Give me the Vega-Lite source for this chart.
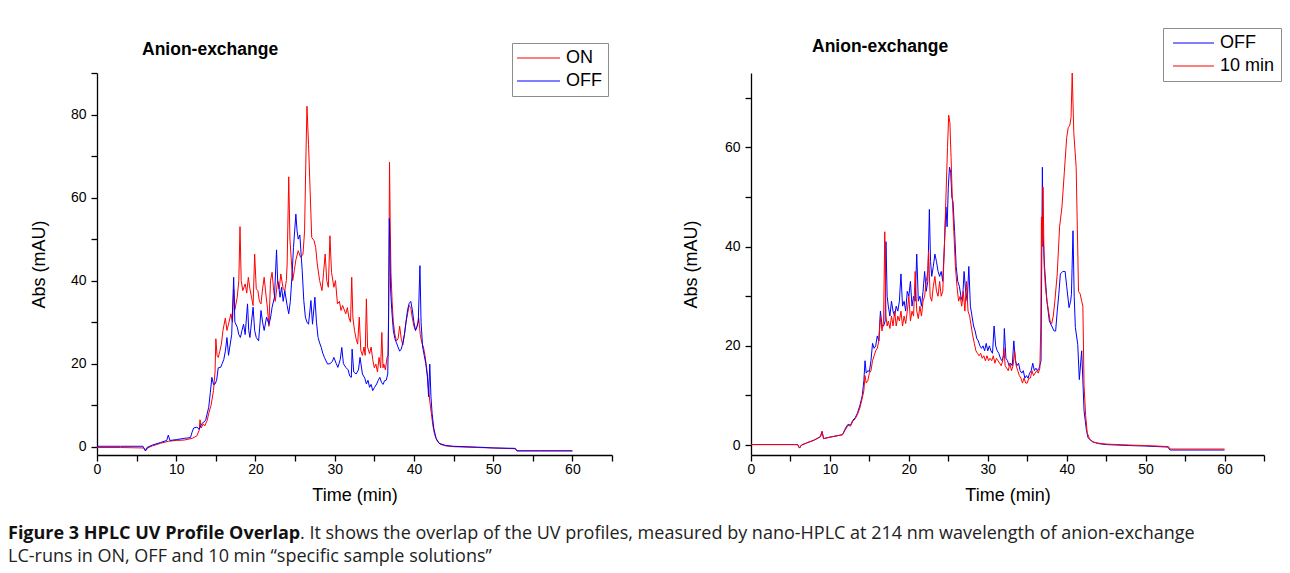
{
  "$schema": "https://vega.github.io/schema/vega-lite/v6.json",
  "padding": {"left": 8, "top": 27, "right": 0, "bottom": 0},
  "background": "white",
  "bounds": "flush",
  "columns": 2,
  "spacing": {"row": 66, "column": 139},
  "resolve": {"scale": {"color": "independent"}, "legend": {"color": "independent"}},
  "config": {
    "view": {"stroke": null},
    "font": "Liberation Sans",
    "axis": {
      "grid": false, "domainColor": "#000", "domainWidth": 1.3, "tickColor": "#000", "tickWidth": 1.3, "tickSize": 6,
      "labelFont": "Liberation Sans", "labelFontSize": 14, "labelColor": "#000", "labelFlush": false, "labelOverlap": false,
      "titleFont": "Liberation Sans", "titleFontSize": 18, "titleFontWeight": "normal", "titleColor": "#000"
    },
    "legend": {
      "orient": "none", "direction": "vertical", "symbolStrokeWidth": 1.2, "symbolSize": 100,
      "labelFont": "Liberation Sans", "labelFontSize": 18, "labelColor": "#000",
      "strokeColor": "#8c8c8c", "fillColor": "white", "padding": 6, "rowPadding": 5, "title": null
    },
    "title": {"anchor": "start", "frame": "group", "fontSize": 17.5, "fontWeight": "bold", "font": "Liberation Sans", "color": "#000"}
  },
  "datasets": {
    "left": [
      {"series":"ON","time":0,"abs":-0.2},{"series":"ON","time":3,"abs":-0.2},{"series":"ON","time":5.9,"abs":-0.3},{"series":"ON","time":6.15,"abs":-1.0},{"series":"ON","time":6.4,"abs":-0.3},{"series":"ON","time":7,"abs":0.2},{"series":"ON","time":8,"abs":0.8},{"series":"ON","time":9,"abs":1.3},{"series":"ON","time":10,"abs":1.5},{"series":"ON","time":11,"abs":1.6},{"series":"ON","time":12,"abs":2.0},{"series":"ON","time":12.6,"abs":2.6},{"series":"ON","time":12.9,"abs":4},{"series":"ON","time":13.0,"abs":6.5},{"series":"ON","time":13.15,"abs":4.5},{"series":"ON","time":13.4,"abs":5.5},{"series":"ON","time":13.6,"abs":5},{"series":"ON","time":13.9,"abs":6.3},{"series":"ON","time":14.1,"abs":8},{"series":"ON","time":14.4,"abs":10},{"series":"ON","time":14.7,"abs":13.5},{"series":"ON","time":14.9,"abs":18},{"series":"ON","time":15.0,"abs":26},{"series":"ON","time":15.15,"abs":22},{"series":"ON","time":15.3,"abs":21.5},{"series":"ON","time":15.5,"abs":23},{"series":"ON","time":15.7,"abs":24.7},{"series":"ON","time":15.9,"abs":28},{"series":"ON","time":16.2,"abs":31},{"series":"ON","time":16.4,"abs":28},{"series":"ON","time":16.6,"abs":29.5},{"series":"ON","time":16.9,"abs":32},{"series":"ON","time":17.1,"abs":30},{"series":"ON","time":17.25,"abs":38},{"series":"ON","time":17.4,"abs":33},{"series":"ON","time":17.7,"abs":36},{"series":"ON","time":17.9,"abs":40},{"series":"ON","time":18.05,"abs":53},{"series":"ON","time":18.2,"abs":40},{"series":"ON","time":18.4,"abs":37.6},{"series":"ON","time":18.7,"abs":39.2},{"series":"ON","time":18.9,"abs":37},{"series":"ON","time":19.1,"abs":40.8},{"series":"ON","time":19.3,"abs":38},{"series":"ON","time":19.5,"abs":36},{"series":"ON","time":19.7,"abs":34},{"series":"ON","time":19.9,"abs":46.4},{"series":"ON","time":20.1,"abs":38},{"series":"ON","time":20.3,"abs":37.6},{"series":"ON","time":20.5,"abs":35},{"series":"ON","time":20.7,"abs":34.4},{"series":"ON","time":20.9,"abs":38},{"series":"ON","time":21.1,"abs":40.8},{"series":"ON","time":21.3,"abs":37},{"series":"ON","time":21.5,"abs":33.6},{"series":"ON","time":21.7,"abs":29},{"series":"ON","time":21.9,"abs":40},{"series":"ON","time":22.1,"abs":42},{"series":"ON","time":22.3,"abs":37.6},{"series":"ON","time":22.5,"abs":35},{"series":"ON","time":22.8,"abs":40},{"series":"ON","time":23.0,"abs":38},{"series":"ON","time":23.2,"abs":41.6},{"series":"ON","time":23.5,"abs":38},{"series":"ON","time":23.7,"abs":37.6},{"series":"ON","time":23.9,"abs":40},{"series":"ON","time":24.0,"abs":44},{"series":"ON","time":24.2,"abs":65},{"series":"ON","time":24.35,"abs":50},{"series":"ON","time":24.5,"abs":45.6},{"series":"ON","time":24.7,"abs":40},{"series":"ON","time":24.9,"abs":42.4},{"series":"ON","time":25.1,"abs":45},{"series":"ON","time":25.4,"abs":47.2},{"series":"ON","time":25.7,"abs":45.6},{"series":"ON","time":26.0,"abs":46.4},{"series":"ON","time":26.2,"abs":52},{"series":"ON","time":26.35,"abs":68},{"series":"ON","time":26.5,"abs":82},{"series":"ON","time":26.7,"abs":72.8},{"series":"ON","time":26.9,"abs":61.6},{"series":"ON","time":27.1,"abs":50.4},{"series":"ON","time":27.4,"abs":49.6},{"series":"ON","time":27.6,"abs":48},{"series":"ON","time":27.8,"abs":44},{"series":"ON","time":28.1,"abs":40},{"series":"ON","time":28.4,"abs":37.6},{"series":"ON","time":28.6,"abs":42},{"series":"ON","time":28.8,"abs":46.4},{"series":"ON","time":29.0,"abs":40},{"series":"ON","time":29.2,"abs":38.4},{"series":"ON","time":29.4,"abs":50.8},{"series":"ON","time":29.6,"abs":42},{"series":"ON","time":29.9,"abs":38.4},{"series":"ON","time":30.1,"abs":40},{"series":"ON","time":30.35,"abs":34.4},{"series":"ON","time":30.6,"abs":35},{"series":"ON","time":30.8,"abs":32.8},{"series":"ON","time":31.0,"abs":34},{"series":"ON","time":31.2,"abs":33},{"series":"ON","time":31.4,"abs":32},{"series":"ON","time":31.6,"abs":33.5},{"series":"ON","time":31.8,"abs":31},{"series":"ON","time":32.0,"abs":30},{"series":"ON","time":32.15,"abs":40.8},{"series":"ON","time":32.3,"abs":31},{"series":"ON","time":32.5,"abs":28},{"series":"ON","time":32.7,"abs":26},{"series":"ON","time":32.9,"abs":24.7},{"series":"ON","time":33.1,"abs":31.2},{"series":"ON","time":33.3,"abs":23.1},{"series":"ON","time":33.5,"abs":22},{"series":"ON","time":33.7,"abs":24},{"series":"ON","time":33.85,"abs":22},{"series":"ON","time":34.0,"abs":35.6},{"series":"ON","time":34.15,"abs":24},{"series":"ON","time":34.4,"abs":22.4},{"series":"ON","time":34.6,"abs":24},{"series":"ON","time":34.8,"abs":21},{"series":"ON","time":35.0,"abs":19},{"series":"ON","time":35.2,"abs":19.9},{"series":"ON","time":35.4,"abs":18},{"series":"ON","time":35.6,"abs":21.5},{"series":"ON","time":35.8,"abs":19},{"series":"ON","time":35.95,"abs":27.5},{"series":"ON","time":36.1,"abs":19},{"series":"ON","time":36.2,"abs":19.9},{"series":"ON","time":36.4,"abs":18.5},{"series":"ON","time":36.6,"abs":21.5},{"series":"ON","time":36.75,"abs":22},{"series":"ON","time":36.85,"abs":45},{"series":"ON","time":36.92,"abs":68.5},{"series":"ON","time":37.0,"abs":55},{"series":"ON","time":37.1,"abs":42},{"series":"ON","time":37.25,"abs":35},{"series":"ON","time":37.4,"abs":30},{"series":"ON","time":37.6,"abs":27},{"series":"ON","time":37.8,"abs":25.5},{"series":"ON","time":38.0,"abs":26},{"series":"ON","time":38.2,"abs":29},{"series":"ON","time":38.4,"abs":26},{"series":"ON","time":38.6,"abs":24.5},{"series":"ON","time":38.8,"abs":27},{"series":"ON","time":39.0,"abs":30},{"series":"ON","time":39.2,"abs":32},{"series":"ON","time":39.4,"abs":34},{"series":"ON","time":39.6,"abs":33.5},{"series":"ON","time":39.8,"abs":31},{"series":"ON","time":40.0,"abs":29},{"series":"ON","time":40.2,"abs":28},{"series":"ON","time":40.4,"abs":29},{"series":"ON","time":40.6,"abs":31},{"series":"ON","time":40.8,"abs":27},{"series":"ON","time":41.0,"abs":25},{"series":"ON","time":41.2,"abs":24},{"series":"ON","time":41.4,"abs":22},{"series":"ON","time":41.6,"abs":19},{"series":"ON","time":41.8,"abs":15},{"series":"ON","time":42.0,"abs":11},{"series":"ON","time":42.2,"abs":8},{"series":"ON","time":42.4,"abs":5},{"series":"ON","time":42.6,"abs":3},{"series":"ON","time":42.9,"abs":1.5},{"series":"ON","time":43.3,"abs":0.6},{"series":"ON","time":44,"abs":0.2},{"series":"ON","time":45,"abs":0},{"series":"ON","time":48,"abs":-0.2},{"series":"ON","time":50,"abs":-0.3},{"series":"ON","time":52.8,"abs":-0.5},{"series":"ON","time":53.0,"abs":-1.0},{"series":"ON","time":56,"abs":-1.0},{"series":"ON","time":60,"abs":-1.0},
      {"series":"OFF","time":0,"abs":0.1},{"series":"OFF","time":3,"abs":0.1},{"series":"OFF","time":5.8,"abs":0.1},{"series":"OFF","time":6.1,"abs":-1.0},{"series":"OFF","time":6.3,"abs":-0.2},{"series":"OFF","time":7,"abs":0.4},{"series":"OFF","time":8,"abs":1.0},{"series":"OFF","time":8.8,"abs":1.5},{"series":"OFF","time":9.0,"abs":2.8},{"series":"OFF","time":9.2,"abs":1.5},{"series":"OFF","time":10,"abs":1.7},{"series":"OFF","time":11,"abs":2.0},{"series":"OFF","time":11.8,"abs":2.2},{"series":"OFF","time":12.0,"abs":3.5},{"series":"OFF","time":12.2,"abs":4.5},{"series":"OFF","time":12.6,"abs":4.7},{"series":"OFF","time":12.9,"abs":4.2},{"series":"OFF","time":13.2,"abs":5.5},{"series":"OFF","time":13.7,"abs":6.3},{"series":"OFF","time":14.1,"abs":9.5},{"series":"OFF","time":14.3,"abs":13},{"series":"OFF","time":14.5,"abs":16.7},{"series":"OFF","time":14.7,"abs":15},{"series":"OFF","time":14.9,"abs":15.1},{"series":"OFF","time":15.1,"abs":16},{"series":"OFF","time":15.3,"abs":19},{"series":"OFF","time":15.6,"abs":19.1},{"series":"OFF","time":15.8,"abs":20},{"series":"OFF","time":16.0,"abs":21},{"series":"OFF","time":16.2,"abs":23},{"series":"OFF","time":16.4,"abs":26.3},{"series":"OFF","time":16.6,"abs":22},{"series":"OFF","time":16.8,"abs":24.5},{"series":"OFF","time":17.0,"abs":27},{"series":"OFF","time":17.25,"abs":40.8},{"series":"OFF","time":17.4,"abs":30},{"series":"OFF","time":17.7,"abs":28.8},{"series":"OFF","time":17.9,"abs":27},{"series":"OFF","time":18.1,"abs":26.3},{"series":"OFF","time":18.3,"abs":28},{"series":"OFF","time":18.5,"abs":29.5},{"series":"OFF","time":18.7,"abs":27},{"series":"OFF","time":19.0,"abs":34.4},{"series":"OFF","time":19.15,"abs":28},{"series":"OFF","time":19.3,"abs":26.3},{"series":"OFF","time":19.5,"abs":30},{"series":"OFF","time":19.7,"abs":33.6},{"series":"OFF","time":19.9,"abs":28},{"series":"OFF","time":20.1,"abs":26.3},{"series":"OFF","time":20.4,"abs":25.5},{"series":"OFF","time":20.7,"abs":32.8},{"series":"OFF","time":20.9,"abs":30},{"series":"OFF","time":21.1,"abs":28},{"series":"OFF","time":21.4,"abs":31.2},{"series":"OFF","time":21.7,"abs":29.5},{"series":"OFF","time":21.9,"abs":31},{"series":"OFF","time":22.1,"abs":33.6},{"series":"OFF","time":22.4,"abs":36},{"series":"OFF","time":22.66,"abs":47.4},{"series":"OFF","time":22.8,"abs":40},{"series":"OFF","time":22.9,"abs":39.2},{"series":"OFF","time":23.1,"abs":36},{"series":"OFF","time":23.3,"abs":38.4},{"series":"OFF","time":23.5,"abs":35},{"series":"OFF","time":23.7,"abs":37.6},{"series":"OFF","time":24.0,"abs":34},{"series":"OFF","time":24.2,"abs":32},{"series":"OFF","time":24.4,"abs":35},{"series":"OFF","time":24.6,"abs":40.8},{"series":"OFF","time":24.8,"abs":48},{"series":"OFF","time":25.1,"abs":56},{"series":"OFF","time":25.25,"abs":52},{"series":"OFF","time":25.4,"abs":50},{"series":"OFF","time":25.6,"abs":51},{"series":"OFF","time":25.9,"abs":42.4},{"series":"OFF","time":26.1,"abs":35.2},{"series":"OFF","time":26.3,"abs":31.2},{"series":"OFF","time":26.5,"abs":30},{"series":"OFF","time":26.7,"abs":29.5},{"series":"OFF","time":27.0,"abs":35.2},{"series":"OFF","time":27.2,"abs":29.5},{"series":"OFF","time":27.5,"abs":36},{"series":"OFF","time":27.7,"abs":30},{"series":"OFF","time":27.9,"abs":26.3},{"series":"OFF","time":28.1,"abs":25},{"series":"OFF","time":28.3,"abs":23.9},{"series":"OFF","time":28.5,"abs":22.5},{"series":"OFF","time":28.7,"abs":21.5},{"series":"OFF","time":29.1,"abs":19.9},{"series":"OFF","time":29.4,"abs":20},{"series":"OFF","time":29.7,"abs":20.5},{"series":"OFF","time":29.9,"abs":21.5},{"series":"OFF","time":30.2,"abs":20},{"series":"OFF","time":30.4,"abs":19.1},{"series":"OFF","time":30.7,"abs":21},{"series":"OFF","time":30.9,"abs":23.9},{"series":"OFF","time":31.1,"abs":20},{"series":"OFF","time":31.4,"abs":19.1},{"series":"OFF","time":31.7,"abs":18.5},{"series":"OFF","time":31.9,"abs":17},{"series":"OFF","time":32.1,"abs":16.7},{"series":"OFF","time":32.2,"abs":23.5},{"series":"OFF","time":32.4,"abs":18},{"series":"OFF","time":32.7,"abs":17.5},{"series":"OFF","time":33.0,"abs":18.5},{"series":"OFF","time":33.2,"abs":21.5},{"series":"OFF","time":33.5,"abs":17.5},{"series":"OFF","time":33.8,"abs":16.5},{"series":"OFF","time":34.0,"abs":15.1},{"series":"OFF","time":34.2,"abs":16},{"series":"OFF","time":34.4,"abs":14.3},{"series":"OFF","time":34.6,"abs":15},{"series":"OFF","time":34.8,"abs":13.5},{"series":"OFF","time":35.0,"abs":14.2},{"series":"OFF","time":35.3,"abs":15.1},{"series":"OFF","time":35.5,"abs":16},{"series":"OFF","time":35.7,"abs":16.7},{"series":"OFF","time":35.9,"abs":15.5},{"series":"OFF","time":36.1,"abs":15},{"series":"OFF","time":36.3,"abs":15.9},{"series":"OFF","time":36.5,"abs":16},{"series":"OFF","time":36.7,"abs":17.5},{"series":"OFF","time":36.8,"abs":30},{"series":"OFF","time":36.9,"abs":55},{"series":"OFF","time":37.05,"abs":38},{"series":"OFF","time":37.2,"abs":33},{"series":"OFF","time":37.4,"abs":28},{"series":"OFF","time":37.6,"abs":26},{"series":"OFF","time":37.8,"abs":25},{"series":"OFF","time":38.0,"abs":24},{"series":"OFF","time":38.2,"abs":23},{"series":"OFF","time":38.4,"abs":23.5},{"series":"OFF","time":38.6,"abs":25},{"series":"OFF","time":38.8,"abs":27},{"series":"OFF","time":39.0,"abs":30},{"series":"OFF","time":39.2,"abs":33},{"series":"OFF","time":39.4,"abs":34.5},{"series":"OFF","time":39.6,"abs":35},{"series":"OFF","time":39.8,"abs":33},{"series":"OFF","time":40.0,"abs":30},{"series":"OFF","time":40.2,"abs":28},{"series":"OFF","time":40.4,"abs":29},{"series":"OFF","time":40.55,"abs":30},{"series":"OFF","time":40.76,"abs":43.6},{"series":"OFF","time":40.9,"abs":30},{"series":"OFF","time":41.1,"abs":24},{"series":"OFF","time":41.3,"abs":22},{"series":"OFF","time":41.5,"abs":20},{"series":"OFF","time":41.7,"abs":17},{"series":"OFF","time":41.85,"abs":12},{"series":"OFF","time":42.0,"abs":19.9},{"series":"OFF","time":42.15,"abs":12},{"series":"OFF","time":42.3,"abs":8},{"series":"OFF","time":42.5,"abs":4.5},{"series":"OFF","time":42.8,"abs":2},{"series":"OFF","time":43.2,"abs":0.8},{"series":"OFF","time":44,"abs":0.3},{"series":"OFF","time":45,"abs":0.1},{"series":"OFF","time":48,"abs":-0.1},{"series":"OFF","time":50,"abs":-0.3},{"series":"OFF","time":52.8,"abs":-0.4},{"series":"OFF","time":53.0,"abs":-1.0},{"series":"OFF","time":56,"abs":-1.0},{"series":"OFF","time":60,"abs":-1.0}
    ],
    "right": [
      {"series":"OFF","time":0,"abs":0.1},{"series":"OFF","time":3,"abs":0.1},{"series":"OFF","time":5.9,"abs":0.1},{"series":"OFF","time":6.15,"abs":-0.6},{"series":"OFF","time":6.4,"abs":0},{"series":"OFF","time":7,"abs":0.4},{"series":"OFF","time":8,"abs":1.0},{"series":"OFF","time":8.8,"abs":1.7},{"series":"OFF","time":9.0,"abs":2.7},{"series":"OFF","time":9.2,"abs":1.3},{"series":"OFF","time":10,"abs":1.6},{"series":"OFF","time":11,"abs":1.9},{"series":"OFF","time":11.6,"abs":2.1},{"series":"OFF","time":12.0,"abs":3.5},{"series":"OFF","time":12.3,"abs":4.2},{"series":"OFF","time":12.6,"abs":4.0},{"series":"OFF","time":12.9,"abs":5},{"series":"OFF","time":13.2,"abs":5.5},{"series":"OFF","time":13.5,"abs":6.5},{"series":"OFF","time":13.8,"abs":8},{"series":"OFF","time":14.1,"abs":10},{"series":"OFF","time":14.3,"abs":13},{"series":"OFF","time":14.45,"abs":17},{"series":"OFF","time":14.6,"abs":14.5},{"series":"OFF","time":14.8,"abs":15},{"series":"OFF","time":15.0,"abs":14.8},{"series":"OFF","time":15.2,"abs":17},{"series":"OFF","time":15.4,"abs":20.5},{"series":"OFF","time":15.6,"abs":19.5},{"series":"OFF","time":15.8,"abs":20},{"series":"OFF","time":16.0,"abs":22},{"series":"OFF","time":16.2,"abs":21},{"series":"OFF","time":16.4,"abs":27},{"series":"OFF","time":16.6,"abs":24},{"series":"OFF","time":16.8,"abs":24},{"series":"OFF","time":17.0,"abs":25},{"series":"OFF","time":17.1,"abs":41},{"series":"OFF","time":17.25,"abs":30},{"series":"OFF","time":17.4,"abs":28},{"series":"OFF","time":17.6,"abs":26},{"series":"OFF","time":17.8,"abs":29},{"series":"OFF","time":18.0,"abs":27},{"series":"OFF","time":18.2,"abs":26},{"series":"OFF","time":18.4,"abs":28},{"series":"OFF","time":18.6,"abs":27},{"series":"OFF","time":18.8,"abs":29},{"series":"OFF","time":19.0,"abs":34.5},{"series":"OFF","time":19.2,"abs":28},{"series":"OFF","time":19.4,"abs":29},{"series":"OFF","time":19.6,"abs":27},{"series":"OFF","time":19.8,"abs":31},{"series":"OFF","time":20.0,"abs":30},{"series":"OFF","time":20.2,"abs":33},{"series":"OFF","time":20.4,"abs":28},{"series":"OFF","time":20.6,"abs":30},{"series":"OFF","time":20.8,"abs":29},{"series":"OFF","time":21.0,"abs":38.5},{"series":"OFF","time":21.2,"abs":29},{"series":"OFF","time":21.4,"abs":30},{"series":"OFF","time":21.6,"abs":28},{"series":"OFF","time":21.8,"abs":31},{"series":"OFF","time":22.0,"abs":35},{"series":"OFF","time":22.2,"abs":31},{"series":"OFF","time":22.4,"abs":33},{"series":"OFF","time":22.6,"abs":47.5},{"series":"OFF","time":22.75,"abs":37},{"series":"OFF","time":22.9,"abs":34},{"series":"OFF","time":23.1,"abs":36},{"series":"OFF","time":23.3,"abs":38.5},{"series":"OFF","time":23.5,"abs":37},{"series":"OFF","time":23.7,"abs":35},{"series":"OFF","time":23.9,"abs":34},{"series":"OFF","time":24.1,"abs":35},{"series":"OFF","time":24.3,"abs":33},{"series":"OFF","time":24.5,"abs":40},{"series":"OFF","time":24.7,"abs":48},{"series":"OFF","time":24.85,"abs":44},{"series":"OFF","time":25.0,"abs":52},{"series":"OFF","time":25.15,"abs":56},{"series":"OFF","time":25.3,"abs":55},{"series":"OFF","time":25.45,"abs":50},{"series":"OFF","time":25.6,"abs":49},{"series":"OFF","time":25.8,"abs":43},{"series":"OFF","time":26.0,"abs":36},{"series":"OFF","time":26.2,"abs":33},{"series":"OFF","time":26.4,"abs":32},{"series":"OFF","time":26.6,"abs":30},{"series":"OFF","time":26.8,"abs":29},{"series":"OFF","time":27.0,"abs":35},{"series":"OFF","time":27.2,"abs":31},{"series":"OFF","time":27.4,"abs":29},{"series":"OFF","time":27.6,"abs":36},{"series":"OFF","time":27.8,"abs":28},{"series":"OFF","time":28.0,"abs":26},{"series":"OFF","time":28.2,"abs":24},{"series":"OFF","time":28.4,"abs":23},{"series":"OFF","time":28.6,"abs":21.5},{"series":"OFF","time":28.8,"abs":21},{"series":"OFF","time":29.0,"abs":20},{"series":"OFF","time":29.2,"abs":19.5},{"series":"OFF","time":29.4,"abs":20},{"series":"OFF","time":29.6,"abs":19},{"series":"OFF","time":29.8,"abs":20.5},{"series":"OFF","time":30.0,"abs":19},{"series":"OFF","time":30.2,"abs":20},{"series":"OFF","time":30.4,"abs":19},{"series":"OFF","time":30.6,"abs":18.5},{"series":"OFF","time":30.8,"abs":24},{"series":"OFF","time":31.0,"abs":20},{"series":"OFF","time":31.2,"abs":19},{"series":"OFF","time":31.4,"abs":18.5},{"series":"OFF","time":31.6,"abs":17.5},{"series":"OFF","time":31.8,"abs":17},{"series":"OFF","time":32.0,"abs":18},{"series":"OFF","time":32.1,"abs":23.5},{"series":"OFF","time":32.3,"abs":17.5},{"series":"OFF","time":32.5,"abs":17},{"series":"OFF","time":32.7,"abs":16},{"series":"OFF","time":32.9,"abs":16.5},{"series":"OFF","time":33.1,"abs":16},{"series":"OFF","time":33.3,"abs":21},{"series":"OFF","time":33.5,"abs":17},{"series":"OFF","time":33.7,"abs":16},{"series":"OFF","time":33.9,"abs":16.5},{"series":"OFF","time":34.1,"abs":15},{"series":"OFF","time":34.3,"abs":14.5},{"series":"OFF","time":34.5,"abs":15},{"series":"OFF","time":34.7,"abs":13.5},{"series":"OFF","time":34.9,"abs":14},{"series":"OFF","time":35.1,"abs":13.5},{"series":"OFF","time":35.3,"abs":14.5},{"series":"OFF","time":35.5,"abs":15},{"series":"OFF","time":35.7,"abs":16.5},{"series":"OFF","time":35.9,"abs":15},{"series":"OFF","time":36.1,"abs":15.5},{"series":"OFF","time":36.3,"abs":15},{"series":"OFF","time":36.5,"abs":15.5},{"series":"OFF","time":36.75,"abs":17},{"series":"OFF","time":36.85,"abs":40},{"series":"OFF","time":36.92,"abs":56},{"series":"OFF","time":37.0,"abs":42.6},{"series":"OFF","time":37.2,"abs":35.8},{"series":"OFF","time":37.5,"abs":29},{"series":"OFF","time":37.8,"abs":25},{"series":"OFF","time":38.1,"abs":24},{"series":"OFF","time":38.4,"abs":23},{"series":"OFF","time":38.6,"abs":23},{"series":"OFF","time":38.8,"abs":27},{"series":"OFF","time":39.0,"abs":30.4},{"series":"OFF","time":39.2,"abs":34.5},{"series":"OFF","time":39.5,"abs":35},{"series":"OFF","time":39.8,"abs":35},{"series":"OFF","time":40.0,"abs":32},{"series":"OFF","time":40.3,"abs":27.7},{"series":"OFF","time":40.5,"abs":29},{"series":"OFF","time":40.6,"abs":30.4},{"series":"OFF","time":40.8,"abs":43.2},{"series":"OFF","time":40.95,"abs":30},{"series":"OFF","time":41.1,"abs":23.7},{"series":"OFF","time":41.4,"abs":20.3},{"series":"OFF","time":41.6,"abs":13.2},{"series":"OFF","time":41.9,"abs":19},{"series":"OFF","time":42.2,"abs":6.9},{"series":"OFF","time":42.5,"abs":3},{"series":"OFF","time":42.7,"abs":1.5},{"series":"OFF","time":43.2,"abs":0.7},{"series":"OFF","time":44,"abs":0.3},{"series":"OFF","time":45,"abs":0.1},{"series":"OFF","time":48,"abs":-0.1},{"series":"OFF","time":50,"abs":-0.2},{"series":"OFF","time":52.8,"abs":-0.4},{"series":"OFF","time":53.1,"abs":-1.0},{"series":"OFF","time":56,"abs":-1.0},{"series":"OFF","time":60,"abs":-1.0},
      {"series":"10 min","time":0,"abs":0.1},{"series":"10 min","time":3,"abs":0.1},{"series":"10 min","time":5.9,"abs":0.1},{"series":"10 min","time":6.15,"abs":-0.6},{"series":"10 min","time":6.4,"abs":0},{"series":"10 min","time":7,"abs":0.4},{"series":"10 min","time":8,"abs":1.0},{"series":"10 min","time":8.8,"abs":1.7},{"series":"10 min","time":9.0,"abs":2.8},{"series":"10 min","time":9.2,"abs":1.3},{"series":"10 min","time":10,"abs":1.6},{"series":"10 min","time":11,"abs":1.9},{"series":"10 min","time":11.6,"abs":2.1},{"series":"10 min","time":12.0,"abs":3.2},{"series":"10 min","time":12.3,"abs":4},{"series":"10 min","time":12.6,"abs":3.8},{"series":"10 min","time":12.9,"abs":4.8},{"series":"10 min","time":13.2,"abs":5.3},{"series":"10 min","time":13.5,"abs":6.2},{"series":"10 min","time":13.8,"abs":7.5},{"series":"10 min","time":14.1,"abs":9.5},{"series":"10 min","time":14.3,"abs":11},{"series":"10 min","time":14.45,"abs":14},{"series":"10 min","time":14.6,"abs":12.5},{"series":"10 min","time":14.8,"abs":13},{"series":"10 min","time":15.0,"abs":14.5},{"series":"10 min","time":15.2,"abs":15},{"series":"10 min","time":15.4,"abs":17},{"series":"10 min","time":15.6,"abs":18},{"series":"10 min","time":15.8,"abs":19},{"series":"10 min","time":16.0,"abs":19.5},{"series":"10 min","time":16.2,"abs":21},{"series":"10 min","time":16.4,"abs":26},{"series":"10 min","time":16.6,"abs":23},{"series":"10 min","time":16.8,"abs":25},{"series":"10 min","time":16.95,"abs":43},{"series":"10 min","time":17.1,"abs":26},{"series":"10 min","time":17.25,"abs":24},{"series":"10 min","time":17.4,"abs":25},{"series":"10 min","time":17.6,"abs":23.5},{"series":"10 min","time":17.8,"abs":26},{"series":"10 min","time":18.0,"abs":24},{"series":"10 min","time":18.2,"abs":27},{"series":"10 min","time":18.4,"abs":24},{"series":"10 min","time":18.6,"abs":26},{"series":"10 min","time":18.8,"abs":25},{"series":"10 min","time":19.0,"abs":27},{"series":"10 min","time":19.2,"abs":24},{"series":"10 min","time":19.4,"abs":26},{"series":"10 min","time":19.6,"abs":24.5},{"series":"10 min","time":19.8,"abs":27},{"series":"10 min","time":20.0,"abs":30},{"series":"10 min","time":20.2,"abs":25},{"series":"10 min","time":20.4,"abs":27},{"series":"10 min","time":20.6,"abs":26},{"series":"10 min","time":20.8,"abs":35},{"series":"10 min","time":21.0,"abs":27},{"series":"10 min","time":21.2,"abs":25.5},{"series":"10 min","time":21.4,"abs":28},{"series":"10 min","time":21.6,"abs":26},{"series":"10 min","time":21.8,"abs":29},{"series":"10 min","time":22.0,"abs":30},{"series":"10 min","time":22.2,"abs":33},{"series":"10 min","time":22.4,"abs":35},{"series":"10 min","time":22.5,"abs":39},{"series":"10 min","time":22.7,"abs":30},{"series":"10 min","time":22.9,"abs":29},{"series":"10 min","time":23.1,"abs":32},{"series":"10 min","time":23.3,"abs":34},{"series":"10 min","time":23.5,"abs":31},{"series":"10 min","time":23.7,"abs":30},{"series":"10 min","time":23.9,"abs":33},{"series":"10 min","time":24.1,"abs":30},{"series":"10 min","time":24.3,"abs":31},{"series":"10 min","time":24.5,"abs":40},{"series":"10 min","time":24.7,"abs":50},{"series":"10 min","time":24.9,"abs":60},{"series":"10 min","time":25.05,"abs":66.5},{"series":"10 min","time":25.2,"abs":65},{"series":"10 min","time":25.35,"abs":58},{"series":"10 min","time":25.5,"abs":50},{"series":"10 min","time":25.7,"abs":43},{"series":"10 min","time":25.9,"abs":36},{"series":"10 min","time":26.1,"abs":32},{"series":"10 min","time":26.3,"abs":29},{"series":"10 min","time":26.5,"abs":30},{"series":"10 min","time":26.7,"abs":28},{"series":"10 min","time":26.9,"abs":31},{"series":"10 min","time":27.1,"abs":27},{"series":"10 min","time":27.3,"abs":33},{"series":"10 min","time":27.5,"abs":27},{"series":"10 min","time":27.7,"abs":26},{"series":"10 min","time":27.9,"abs":24},{"series":"10 min","time":28.1,"abs":22},{"series":"10 min","time":28.3,"abs":20.5},{"series":"10 min","time":28.5,"abs":19},{"series":"10 min","time":28.7,"abs":18.5},{"series":"10 min","time":28.9,"abs":18},{"series":"10 min","time":29.1,"abs":18.5},{"series":"10 min","time":29.3,"abs":17.5},{"series":"10 min","time":29.5,"abs":18},{"series":"10 min","time":29.7,"abs":17},{"series":"10 min","time":29.9,"abs":18},{"series":"10 min","time":30.1,"abs":17},{"series":"10 min","time":30.3,"abs":17.5},{"series":"10 min","time":30.5,"abs":17},{"series":"10 min","time":30.7,"abs":18},{"series":"10 min","time":30.9,"abs":16.5},{"series":"10 min","time":31.1,"abs":17.5},{"series":"10 min","time":31.3,"abs":17},{"series":"10 min","time":31.5,"abs":16.5},{"series":"10 min","time":31.7,"abs":16},{"series":"10 min","time":31.9,"abs":17},{"series":"10 min","time":32.05,"abs":19.5},{"series":"10 min","time":32.2,"abs":16},{"series":"10 min","time":32.4,"abs":15.5},{"series":"10 min","time":32.6,"abs":15},{"series":"10 min","time":32.8,"abs":16.5},{"series":"10 min","time":33.0,"abs":15},{"series":"10 min","time":33.2,"abs":16},{"series":"10 min","time":33.4,"abs":19},{"series":"10 min","time":33.6,"abs":16},{"series":"10 min","time":33.8,"abs":15},{"series":"10 min","time":34.0,"abs":14},{"series":"10 min","time":34.2,"abs":13.5},{"series":"10 min","time":34.4,"abs":12.5},{"series":"10 min","time":34.6,"abs":13.5},{"series":"10 min","time":34.8,"abs":12.5},{"series":"10 min","time":35.0,"abs":12.5},{"series":"10 min","time":35.2,"abs":13.5},{"series":"10 min","time":35.4,"abs":13.5},{"series":"10 min","time":35.6,"abs":15},{"series":"10 min","time":35.8,"abs":14},{"series":"10 min","time":36.0,"abs":14.5},{"series":"10 min","time":36.2,"abs":15},{"series":"10 min","time":36.4,"abs":14.5},{"series":"10 min","time":36.6,"abs":15.5},{"series":"10 min","time":36.72,"abs":24},{"series":"10 min","time":36.8,"abs":46},{"series":"10 min","time":36.9,"abs":40},{"series":"10 min","time":37.0,"abs":52},{"series":"10 min","time":37.15,"abs":36},{"series":"10 min","time":37.3,"abs":32},{"series":"10 min","time":37.5,"abs":29},{"series":"10 min","time":37.7,"abs":27},{"series":"10 min","time":37.9,"abs":25},{"series":"10 min","time":38.1,"abs":24.5},{"series":"10 min","time":38.3,"abs":26},{"series":"10 min","time":38.5,"abs":29},{"series":"10 min","time":38.8,"abs":34.5},{"series":"10 min","time":39.1,"abs":44},{"series":"10 min","time":39.4,"abs":48},{"series":"10 min","time":39.7,"abs":55},{"series":"10 min","time":40.0,"abs":62},{"series":"10 min","time":40.2,"abs":64},{"series":"10 min","time":40.4,"abs":64.5},{"series":"10 min","time":40.55,"abs":66},{"series":"10 min","time":40.7,"abs":75},{"series":"10 min","time":40.9,"abs":63},{"series":"10 min","time":41.2,"abs":56},{"series":"10 min","time":41.5,"abs":31},{"series":"10 min","time":41.7,"abs":30.5},{"series":"10 min","time":41.9,"abs":29},{"series":"10 min","time":42.05,"abs":28},{"series":"10 min","time":42.2,"abs":12},{"series":"10 min","time":42.4,"abs":6},{"series":"10 min","time":42.6,"abs":2.5},{"series":"10 min","time":42.9,"abs":1.2},{"series":"10 min","time":43.4,"abs":0.6},{"series":"10 min","time":44,"abs":0.4},{"series":"10 min","time":45,"abs":0.2},{"series":"10 min","time":48,"abs":0},{"series":"10 min","time":50,"abs":-0.1},{"series":"10 min","time":52.9,"abs":-0.3},{"series":"10 min","time":53.1,"abs":-0.8},{"series":"10 min","time":56,"abs":-0.8},{"series":"10 min","time":60,"abs":-0.8}
    ],
    "caption": [
      {"part":"bold","text":"Figure 3 HPLC UV Profile Overlap"},
      {"part":"rest1","text":". It shows the overlap of the UV profiles, measured by nano-HPLC at 214 nm wavelength of anion-exchange"},
      {"part":"rest2","text":"LC-runs in ON, OFF and 10 min “specific sample solutions”"}
    ]
  },
  "concat": [
    {
      "width": 515, "height": 382,
      "title": {"text": "Anion-exchange", "dx": 45, "offset": -16},
      "data": {"name": "left"},
      "encoding": {
        "x": {"field": "time", "type": "quantitative", "scale": {"domain": [0, 65], "nice": false, "zero": false},
              "axis": {"title": "Time (min)", "values": [0,5,10,15,20,25,30,35,40,45,50,55,60,65], "labelExpr": "datum.value % 10 === 0 ? datum.label : ''", "labelPadding": 1, "titlePadding": 10}},
        "y": {"field": "abs", "type": "quantitative", "scale": {"domain": [-2, 90], "nice": false, "zero": false},
              "axis": {"title": "Abs (mAU)", "values": [0,10,20,30,40,50,60,70,80,90], "labelExpr": "datum.value % 20 === 0 ? datum.label : ''", "labelPadding": 5, "titlePadding": 22}},
        "color": {"field": "series", "type": "nominal", "scale": {"domain": ["ON", "OFF"], "range": ["#ff0000", "#0000ff"]},
                  "legend": {"legendX": 415, "legendY": -30, "symbolType": "M-2,0H6.6", "labelOffset": 30}}
      },
      "layer": [
        {"transform": [{"filter": "datum.series === 'ON'"}], "mark": {"type": "line", "strokeWidth": 1, "clip": true}},
        {"transform": [{"filter": "datum.series === 'OFF'"}], "mark": {"type": "line", "strokeWidth": 1, "clip": true}}
      ]
    },
    {
      "width": 513, "height": 382,
      "title": {"text": "Anion-exchange", "dx": 61, "offset": -28},
      "data": {"name": "right"},
      "encoding": {
        "x": {"field": "time", "type": "quantitative", "scale": {"domain": [0, 65], "nice": false, "zero": false},
              "axis": {"title": "Time (min)", "values": [0,5,10,15,20,25,30,35,40,45,50,55,60,65], "labelExpr": "datum.value % 10 === 0 ? datum.label : ''", "labelPadding": 1, "titlePadding": 10}},
        "y": {"field": "abs", "type": "quantitative", "scale": {"domain": [-2, 75], "nice": false, "zero": false},
              "axis": {"title": "Abs (mAU)", "values": [0,10,20,30,40,50,60,70], "labelExpr": "datum.value % 20 === 0 ? datum.label : ''", "labelPadding": 5, "titlePadding": 24}},
        "color": {"field": "series", "type": "nominal", "scale": {"domain": ["OFF", "10 min"], "range": ["#0000ff", "#ff0000"]},
                  "legend": {"legendX": 412, "legendY": -45, "symbolType": "M-1,0H7.2", "labelOffset": 33}}
      },
      "layer": [
        {"transform": [{"filter": "datum.series === 'OFF'"}], "mark": {"type": "line", "strokeWidth": 1, "clip": true}},
        {"transform": [{"filter": "datum.series === '10 min'"}], "mark": {"type": "line", "strokeWidth": 1, "clip": true}}
      ]
    },
    {
      "width": 1, "height": 46,
      "data": {"name": "caption"},
      "layer": [
        {"transform": [{"filter": "datum.part === 'bold'"}],
         "mark": {"type": "text", "align": "left", "baseline": "middle", "x": -89, "y": 13, "font": "Open Sans", "fontSize": 18, "fontWeight": "bold", "color": "#111"},
         "encoding": {"text": {"field": "text"}}},
        {"transform": [{"filter": "datum.part === 'rest1'"}],
         "mark": {"type": "text", "align": "left", "baseline": "middle", "x": 203, "y": 13, "font": "Open Sans", "fontSize": 18, "color": "#222"},
         "encoding": {"text": {"field": "text"}}},
        {"transform": [{"filter": "datum.part === 'rest2'"}],
         "mark": {"type": "text", "align": "left", "baseline": "middle", "x": -89, "y": 36, "font": "Open Sans", "fontSize": 18, "color": "#222"},
         "encoding": {"text": {"field": "text"}}}
      ]
    }
  ]
}
